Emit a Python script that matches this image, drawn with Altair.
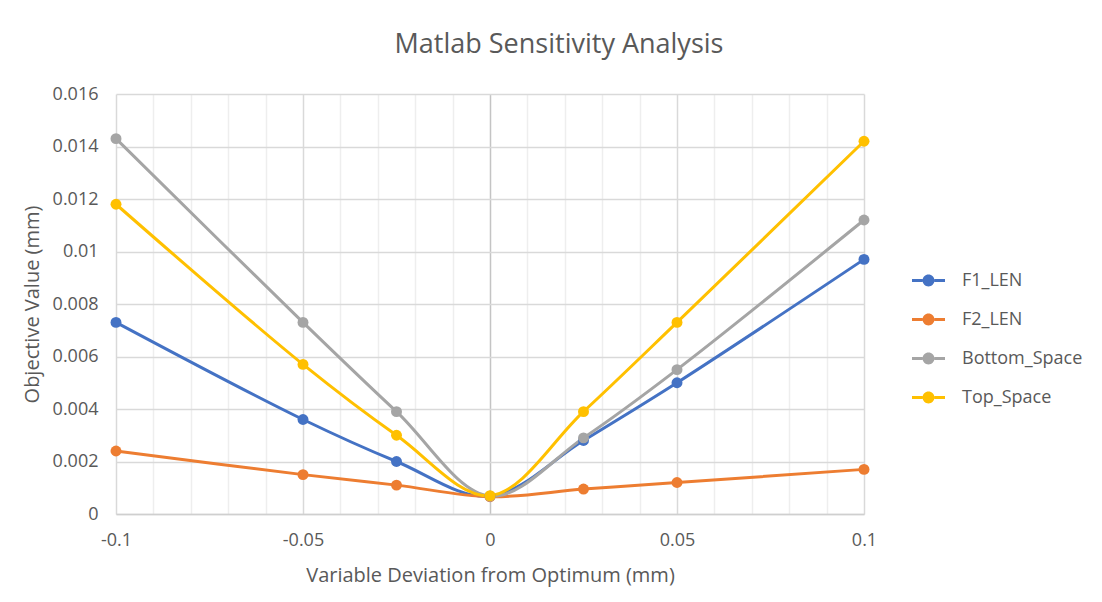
import altair as alt
import pandas as pd

# ---- data ----
x_vals = [-0.1, -0.05, -0.025, 0, 0.025, 0.05, 0.1]
series = ["F1_LEN", "F2_LEN", "Bottom_Space", "Top_Space"]
f1_len = [0.0073, 0.0036, 0.0020, 0.00068, 0.0028, 0.0050, 0.0097]
f2_len = [0.0024, 0.0015, 0.0011, 0.00066, 0.00095, 0.0012, 0.0017]
bottom_space = [0.0143, 0.0073, 0.0039, 0.00068, 0.0029, 0.0055, 0.0112]
top_space = [0.0118, 0.0057, 0.0030, 0.0007, 0.0039, 0.0073, 0.0142]
colors = ["#4472C4", "#ED7D31", "#A5A5A5", "#FFC000"]

x_ticks = [-0.1, -0.09, -0.08, -0.07, -0.06, -0.05, -0.04, -0.03, -0.02, -0.01, 0,
           0.01, 0.02, 0.03, 0.04, 0.05, 0.06, 0.07, 0.08, 0.09, 0.1]
y_ticks = [0, 0.002, 0.004, 0.006, 0.008, 0.01, 0.012, 0.014, 0.016]

values_by_series = [f1_len, f2_len, bottom_space, top_space]
rows = []
for s_idx, (name, vals) in enumerate(zip(series, values_by_series)):
    for xv, yv in zip(x_vals, vals):
        rows.append({"series": name, "order": s_idx, "x": xv, "y": yv})
df = pd.DataFrame(rows)

FONT = "Open Sans"
TXT = "#595959"

major_test = "abs(datum.value*20 - round(datum.value*20)) < 0.000001"

x_enc = alt.X(
    "x:Q",
    scale=alt.Scale(domain=[-0.1, 0.1], nice=False, zero=False),
    axis=alt.Axis(
        values=x_ticks,
        title="Variable Deviation from Optimum (mm)",
        labelExpr=f"({major_test}) ? ('' + datum.value) : ''",
        gridColor={"condition": [
            {"test": "datum.value == 0", "value": "#c4c4c4"},
            {"test": major_test, "value": "#d9d9d9"}],
            "value": "#eeeeee"},
        gridWidth=1.5,
        grid=True,
        ticks=False,
        domain=True,
        domainColor="#cfcfcf",
        domainWidth=1.5,
        labelPadding=17,
        labelFontSize=18,
        labelColor=TXT,
        labelFont=FONT,
        labelFlush=False,
        labelOverlap=False,
        labelBound=False,
        titleFont=FONT,
        titleFontSize=20,
        titleFontWeight="normal",
        titleColor=TXT,
        titleX=374,
        titleY=61,
        titleBaseline="middle",
    ),
)

y_enc = alt.Y(
    "y:Q",
    scale=alt.Scale(domain=[0, 0.016], nice=False, zero=True),
    axis=alt.Axis(
        values=y_ticks,
        title="Objective Value (mm)",
        labelExpr="'' + datum.value",
        grid=True,
        gridColor="#d9d9d9",
        gridWidth=1.5,
        ticks=False,
        domain=False,
        labelPadding=18,
        labelFontSize=18,
        labelColor=TXT,
        labelFont=FONT,
        labelFlush=False,
        titleFont=FONT,
        titleFontSize=20,
        titleFontWeight="normal",
        titleColor=TXT,
        titleX=-84,
        titleY=210,
        titleBaseline="middle",
    ),
)

color_enc = alt.Color(
    "series:N",
    scale=alt.Scale(domain=series, range=colors),
    sort=series,
    legend=alt.Legend(
        title=None,
        orient="none",
        legendX=796,
        legendY=170,
        symbolType="M-1,-0.09H-0.36V0.09H-1Z M0.36,-0.09H1V0.09H0.36Z M0.36,0A0.36,0.36,0,1,1,-0.36,0A0.36,0.36,0,1,1,0.36,0Z",
        symbolSize=1089,
        symbolStrokeWidth=0,
        symbolOpacity=1,
        labelFont=FONT,
        labelFontSize=18,
        labelColor=TXT,
        labelOffset=17,
        rowPadding=13,
        padding=0,
    ),
)

lines = alt.Chart(df).mark_line(
    interpolate="catmull-rom", strokeWidth=3
).encode(x=x_enc, y=y_enc, color=color_enc, order="order:Q")

points = alt.Chart(df).mark_circle(size=120, opacity=1).encode(
    x=x_enc, y=y_enc, color=color_enc
)

chart = alt.layer(lines, points).properties(
    width=748,
    height=420,
    title=alt.TitleParams(
        "Matlab Sensitivity Analysis",
        font=FONT,
        fontSize=27,
        fontWeight="normal",
        color=TXT,
        dx=69,
        offset=26,
    ),
    autosize=alt.AutoSizeParams(type="none"),
    padding={"left": 108, "top": 86, "right": 230, "bottom": 80},
).configure_view(stroke=None)

chart.save("out.html", embed_options={"renderer": "svg", "actions": False})
